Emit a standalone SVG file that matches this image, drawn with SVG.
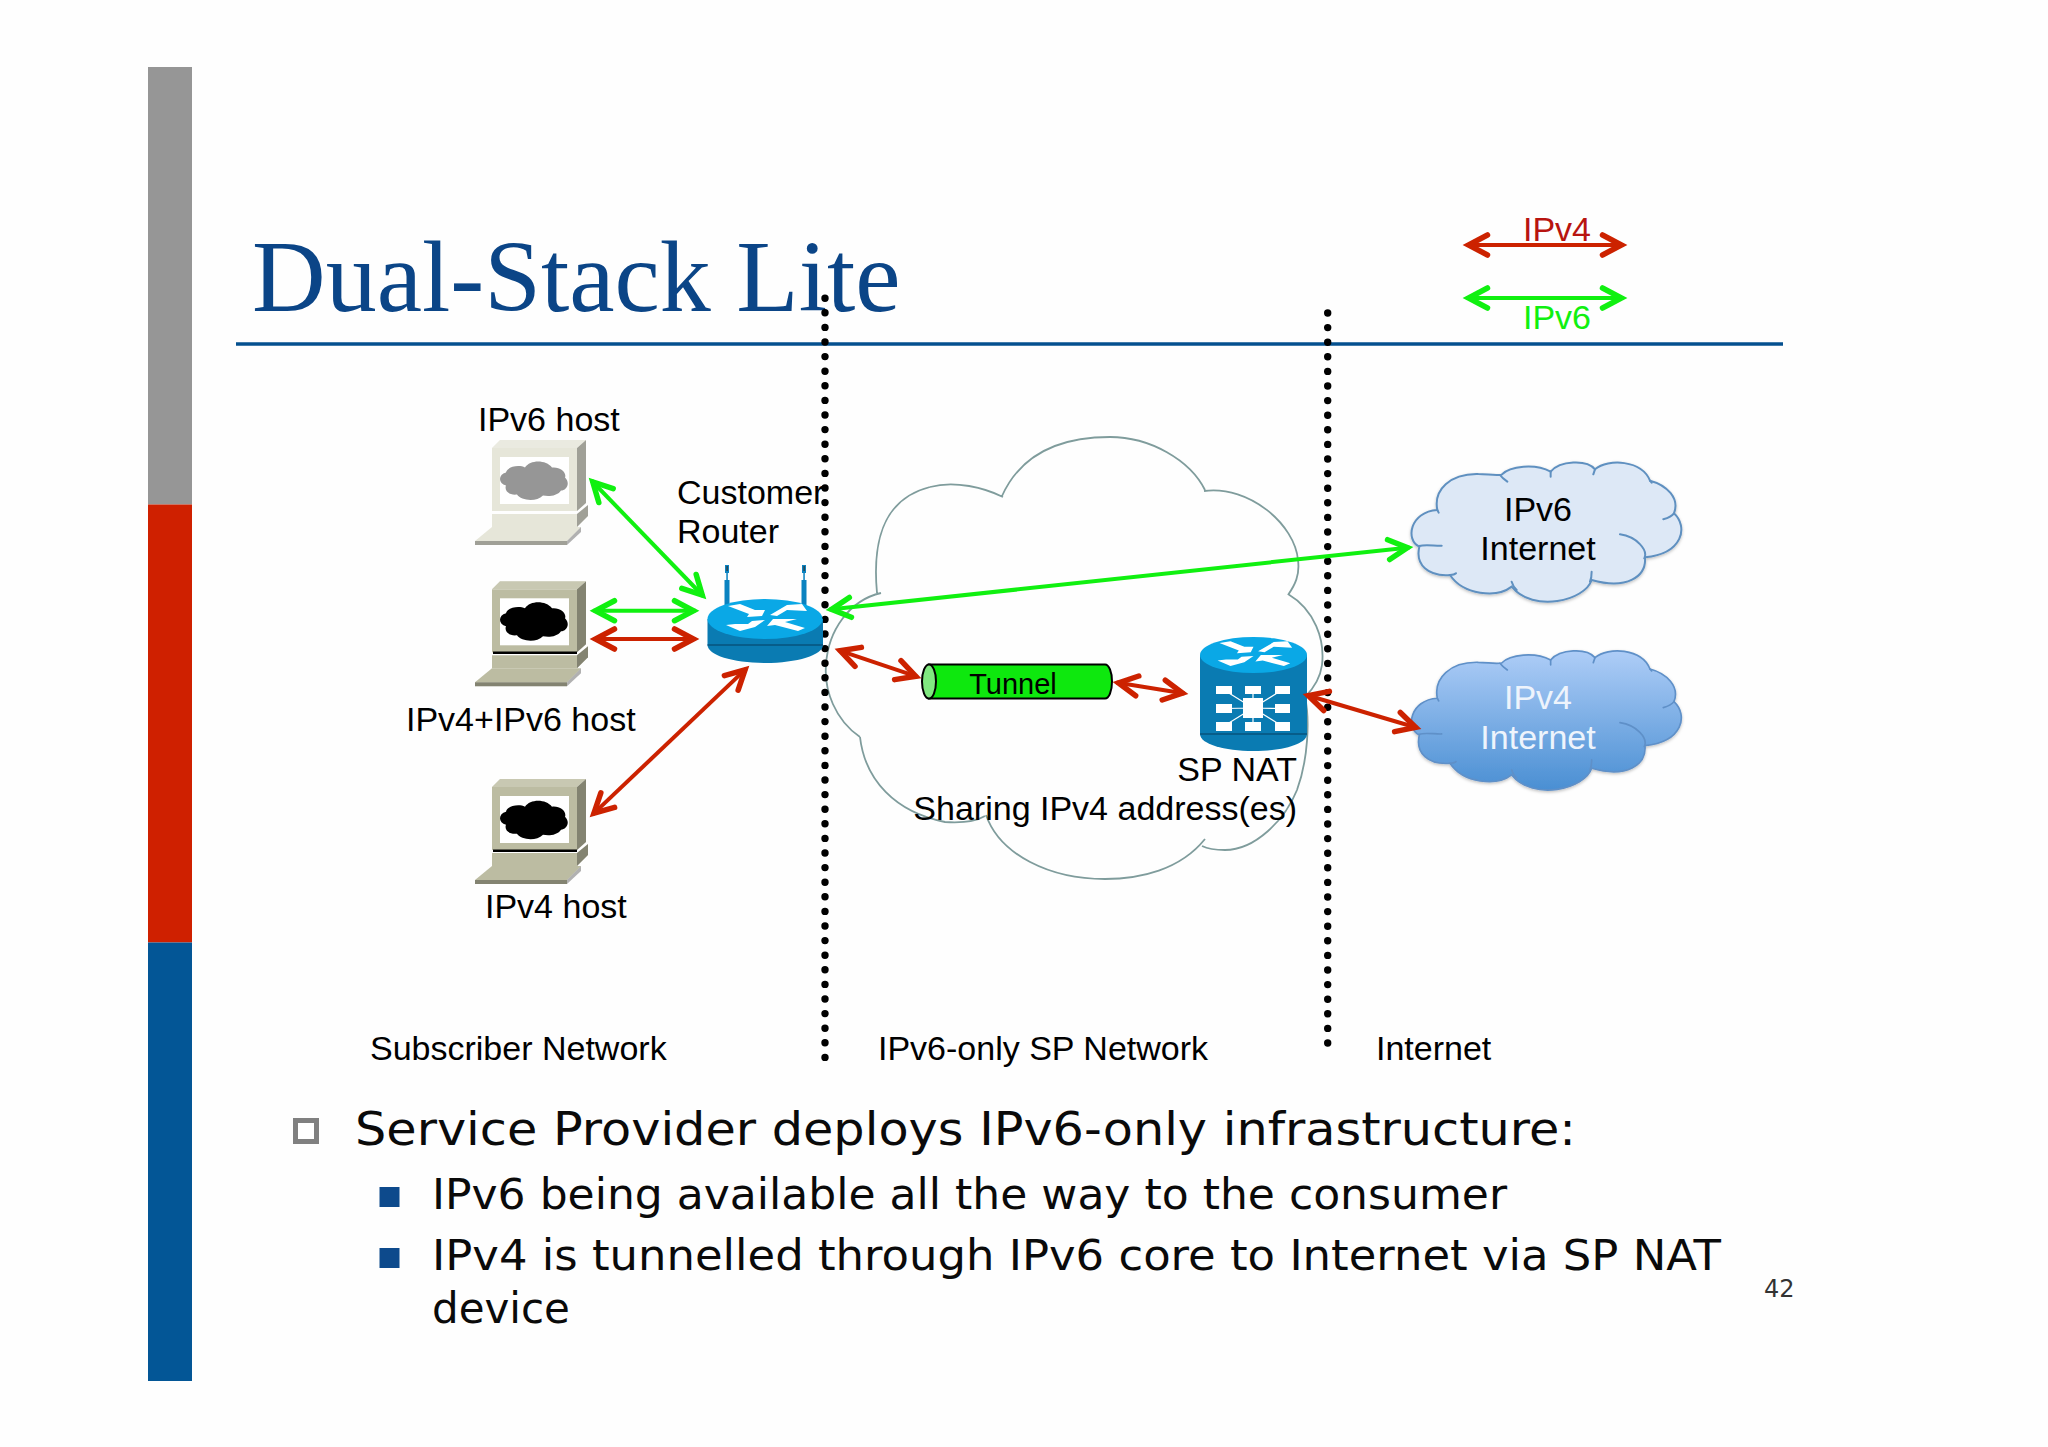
<svg xmlns="http://www.w3.org/2000/svg" width="2048" height="1447" viewBox="0 0 2048 1447">
<style>
text{font-family:"Liberation Sans",Arial,sans-serif;font-size:34px;fill:#000}
.body{font-family:"DejaVu Sans",Verdana,sans-serif;fill:#0a0a0a}
.dots{fill:none;stroke:#000;stroke-width:7.4;stroke-linecap:round;stroke-dasharray:0 14.6}
.a{fill:none;stroke-width:4;stroke-linecap:butt}
.g{stroke:#10f010;marker-start:url(#hg);marker-end:url(#hg)}
.r{stroke:#cc2200;marker-start:url(#hr);marker-end:url(#hr)}
.big{fill:none;stroke:#7f9c9c;stroke-width:1.8}
.in{fill:none}
.shade{fill:#000;opacity:.3}
.light{fill:#fff;opacity:.18}
</style>
<defs>
<marker id="hg" viewBox="-24 -14 32 28" markerUnits="userSpaceOnUse" markerWidth="32" markerHeight="28" refX="2" refY="0" orient="auto-start-reverse"><path d="M-19 -10 L0 0 L-19 10" fill="none" stroke="#10f010" stroke-width="5.500" stroke-linecap="round" stroke-linejoin="miter"/></marker>
<marker id="hr" viewBox="-24 -14 32 28" markerUnits="userSpaceOnUse" markerWidth="32" markerHeight="28" refX="2" refY="0" orient="auto-start-reverse"><path d="M-19 -10 L0 0 L-19 10" fill="none" stroke="#cc2200" stroke-width="5.500" stroke-linecap="round" stroke-linejoin="miter"/></marker>
<linearGradient id="cg" x1="0" y1="0" x2="0" y2="1"><stop offset="0" stop-color="#aecdf7"/><stop offset="1" stop-color="#4a8fd3"/></linearGradient>
<filter id="sh" x="-10%" y="-10%" width="120%" height="130%"><feDropShadow dx="0" dy="4" stdDeviation="4" flood-color="#000" flood-opacity=".25"/></filter>
<path id="cloudP" d="M112 210 C100 150 150 100 235 102 C262 102 285 108 305 104 C330 78 405 70 452 95 C480 62 560 58 585 88 C625 55 725 60 750 122 C800 135 840 175 822 220 C865 260 850 340 735 352 C740 410 680 450 575 420 C555 482 400 520 335 440 C290 475 190 465 150 405 C85 410 45 375 58 320 C15 300 30 215 112 210 Z"/>
<path id="cloudI" class="in" d="M112 210 L116 218 M58 318 C75 312 105 318 125 317 M150 405 C155 405 165 403 168 400 M335 425 C338 436 342 442 350 450 M575 395 C575 410 573 418 570 425 M660 283 C710 290 745 330 733 355 M822 220 C815 230 800 235 790 238 M750 122 L755 128 M585 88 L580 103 M452 95 L452 110 M300 105 C305 112 315 120 322 125"/>
<path id="miniCloud" d="M-28 -9 C-27 -15 -15 -17 -9 -14 C-4 -22 12 -22 18 -14 C26 -15 33 -9 31 -4 C37 2 32 9 27 9 C23 15 14 15 9 14 C2 21 -13 19 -17 13 C-25 14 -30 9 -28 4 C-36 2 -36 -7 -28 -9 Z"/>
<g id="pc">
<path d="M492 448 L500 440 L586 440 L577 448 Z"/>
<rect x="492" y="448" width="85" height="63"/>
<path d="M577 448 L586 440 L586 503 L577 511 Z"/>
<path class="shade" d="M577 448 L586 440 L586 503 L577 511 Z"/>
<path class="light" d="M492 448 L500 440 L586 440 L577 448 Z"/>
<rect x="500" y="457" width="69" height="47" fill="#fff"/>
<path d="M492 514 L577 514 L588 505 L588 516 L577 527 L492 527 Z"/>
<path class="shade" d="M577 514 L588 505 L588 516 L577 527 Z"/>
<path d="M492 527 L581 527 L567 541 L475 541 Z"/>
<path d="M475 541 L567 541 L567 545 L475 545 Z"/>
<path class="shade" d="M475 541 L567 541 L567 545 L475 545 Z"/>
<path class="shade" d="M581 527 L581 532 L567 545 L567 541 Z"/>
</g>
<g id="arrows">
<path fill="#fff" d="M-37 -13 L-25 -15 L-10 -9 L0 -9 L-3 -3 L-18 -2 L-16 -5 Z M5 -4 L22 -14 L37 -15 L42 -8 L22 -9 L12 -3 Z M-39 6 L-25 12 L-10 8 L0 1 L-13 2 L-17 5 L-30 5 Z M2 7 L8 0 L32 0 L20 3 L40 9 L33 12 L10 6 Z"/>
</g>
</defs>
<rect id="background" width="2048" height="1447" fill="#fefefe"/>
<rect x="148" y="67" width="44" height="437.500" fill="#969696"/>
<rect x="148" y="504.500" width="44" height="438" fill="#cf2000"/>
<rect x="148" y="942.500" width="44" height="438.500" fill="#035696"/>
<text x="252" y="311" style="font-family:'Liberation Serif','Times New Roman',serif;font-size:102px;fill:#0b4587">Dual-Stack Lite</text>
<line x1="236" y1="344" x2="1783" y2="344" stroke="#04508f" stroke-width="3.500"/>
<g id="network-cloud">
<path class="big" d="M877 593 C873 550 878 500 930 487 C955 480 985 488 1003 497 M1002 496 C1025 445 1075 437 1110 437 C1150 437 1190 460 1205 490 M1204 491 C1250 485 1295 525 1298 560 C1300 575 1295 585 1288 595 M1288 594 C1315 610 1325 640 1322 665 C1320 680 1312 690 1305 697 C1310 720 1308 760 1297 790 C1285 820 1255 850 1225 850 C1215 850 1208 849 1202 846 M1205 839 C1180 870 1140 879 1105 879 C1050 879 1000 855 986 815 M860 737 C865 780 895 812 945 822 C960 823 975 822 985 816 M860 737 C835 720 824 690 826 665 C828 630 850 600 881 593"/>
</g>
<path id="divider-left" class="dots" d="M825 298.200 V1060"/>
<path id="divider-right" class="dots" d="M1327.700 313 V1048"/>
<g id="ipv6-host" style="fill:#e6e6d9">
<use href="#pc"/>
<use href="#miniCloud" transform="translate(534 481.500)" style="fill:#969696"/>
<text x="478" y="431">IPv6 host</text>
</g>
<g id="dual-host" style="fill:#bcbca2">
<use href="#pc" y="141.300"/>
<rect x="493" y="651.500" width="84" height="2.500" fill="#000"/>
<use href="#miniCloud" transform="translate(534 622.300)" style="fill:#000"/>
<text x="406" y="731">IPv4+IPv6 host</text>
</g>
<g id="ipv4-host" style="fill:#bcbca2">
<use href="#pc" y="339"/>
<rect x="493" y="849.500" width="84" height="2.500" fill="#000"/>
<use href="#miniCloud" transform="translate(534 820.700)" style="fill:#000"/>
<text x="485" y="918">IPv4 host</text>
</g>
<g id="customer-router">
<g fill="#0a82c0">
<rect x="724.500" y="580" width="5" height="27"/>
<rect x="801.500" y="580" width="5" height="27"/>
<rect x="725" y="565" width="4" height="8"/>
<rect x="802" y="565" width="4" height="8"/>
<rect x="726.300" y="573" width="1.500" height="7"/>
<rect x="803.300" y="573" width="1.500" height="7"/>
</g>
<rect x="726.500" y="566" width="1.200" height="5" fill="#333"/>
<rect x="803.500" y="566" width="1.200" height="5" fill="#333"/>
<path d="M707.500 619 V645 C707.500 655 733 663 765 663 C797 663 823 655 823 645 V619 Z" fill="#0a7bb2"/>
<line x1="707.500" y1="645" x2="823" y2="645" stroke="#07537d" stroke-width="1.500"/>
<ellipse cx="765" cy="619" rx="57.500" ry="20" fill="#0aa8e6"/>
<use href="#arrows" x="765" y="619"/>
<text x="677" y="504">Customer</text>
<text x="677" y="543">Router</text>
</g>
<g id="tunnel">
<path d="M929 664.500 H1105 C1109 664.500 1112 672 1112 681.500 C1112 691 1109 698.500 1105 698.500 H929 Z" fill="#0ee80e" stroke="#000" stroke-width="2"/>
<ellipse cx="929" cy="681.500" rx="7" ry="17" fill="#80e880" stroke="#000" stroke-width="2"/>
<text x="1013" y="694" text-anchor="middle" style="font-size:29px">Tunnel</text>
</g>
<g id="sp-nat">
<path d="M1200 655 V734 C1200 744 1224 751 1253.500 751 C1283 751 1307 744 1307 734 V655 Z" fill="#0a7bb2"/>
<line x1="1200" y1="734" x2="1307" y2="734" stroke="#07537d" stroke-width="1.500"/>
<ellipse cx="1253.500" cy="655" rx="53.500" ry="18" fill="#0aa8e6"/>
<use href="#arrows" transform="translate(1253.500 655) scale(.92)"/>
<g fill="#fff" stroke="#fff">
<path stroke-width="1.200" fill="none" d="M1253 708 L1224 690 M1253 708 L1253 690 M1253 708 L1282 690 M1253 708 L1224 708.500 M1253 708 L1282 708.500 M1253 708 L1224 726 M1253 708 L1253 726 M1253 708 L1282 726"/>
<g stroke="none">
<rect x="1216" y="686" width="16" height="8"/><rect x="1245" y="686" width="16" height="8"/><rect x="1275" y="686" width="15" height="8"/>
<rect x="1216" y="704" width="16" height="9"/><rect x="1275" y="704" width="15" height="9"/>
<rect x="1216" y="722" width="16" height="9"/><rect x="1245" y="722" width="16" height="9"/><rect x="1275" y="722" width="15" height="9"/>
<rect x="1243" y="698" width="20" height="20"/>
</g>
</g>
<text x="1297" y="781" text-anchor="end">SP NAT</text>
<text x="1297" y="820" text-anchor="end">Sharing IPv4 address(es)</text>
</g>
<g id="ipv6-internet">
<g transform="translate(1400 440) scale(.3333)">
<use href="#cloudP" fill="#dde8f6" stroke="#5f90c0" stroke-width="6" filter="url(#sh)"/>
<use href="#cloudI" stroke="#5f90c0" stroke-width="6" stroke-linecap="round"/>
</g>
<text x="1538" y="521" text-anchor="middle">IPv6</text>
<text x="1538" y="560" text-anchor="middle">Internet</text>
</g>
<g id="ipv4-internet">
<g transform="translate(1400 628.300) scale(.3333)">
<use href="#cloudP" fill="url(#cg)" stroke="#5f90c8" stroke-width="5" filter="url(#sh)"/>
<use href="#cloudI" stroke="#5f90c8" stroke-width="5" stroke-linecap="round"/>
</g>
<text x="1538" y="709" text-anchor="middle" style="fill:#eef4fc">IPv4</text>
<text x="1538" y="749" text-anchor="middle" style="fill:#eef4fc">Internet</text>
</g>
<g id="connectors">
<line class="a g" x1="591.400" y1="480.500" x2="703.600" y2="596.500"/>
<line class="a g" x1="593.500" y1="610.700" x2="695.500" y2="610.700"/>
<line class="a r" x1="593.500" y1="639" x2="695.500" y2="639"/>
<line class="a r" x1="592.500" y1="814.600" x2="746.500" y2="668.400"/>
<line class="a g" x1="829.500" y1="609.600" x2="1409.500" y2="547.400"/>
<line class="a r" x1="838.300" y1="650.100" x2="917.700" y2="676.900"/>
<line class="a r" x1="1116.500" y1="682.600" x2="1184.500" y2="693.400"/>
<line class="a r" x1="1306.400" y1="695" x2="1417.600" y2="728"/>
</g>
<g id="legend">
<line class="a r" x1="1466.500" y1="245" x2="1623.500" y2="245"/>
<line class="a g" x1="1466.500" y1="298" x2="1623.500" y2="298"/>
<text x="1523" y="241" style="fill:#b81410">IPv4</text>
<text x="1523" y="329" style="fill:#10f010">IPv6</text>
</g>
<g id="region-labels">
<text x="370" y="1060">Subscriber Network</text>
<text x="878" y="1060">IPv6-only SP Network</text>
<text x="1376" y="1060">Internet</text>
</g>
<g id="bullets">
<rect x="295.500" y="1120.500" width="21" height="21" fill="#fff" stroke="#808080" stroke-width="5"/>
<rect x="379.500" y="1187" width="20" height="20" fill="#0d4a8c"/>
<rect x="379.500" y="1248" width="20" height="20" fill="#0d4a8c"/>
<text class="body" x="355" y="1145" textLength="1221" lengthAdjust="spacingAndGlyphs" style="font-size:46.500px">Service Provider deploys IPv6-only infrastructure:</text>
<text class="body" x="432" y="1208.500" textLength="1075" lengthAdjust="spacingAndGlyphs" style="font-size:42px">IPv6 being available all the way to the consumer</text>
<text class="body" x="432" y="1269.500" textLength="1289" lengthAdjust="spacingAndGlyphs" style="font-size:42px">IPv4 is tunnelled through IPv6 core to Internet via SP NAT</text>
<text class="body" x="432" y="1323" style="font-size:42px">device</text>
<text class="body" x="1764" y="1297" style="font-size:24px;fill:#333">42</text>
</g>
</svg>
